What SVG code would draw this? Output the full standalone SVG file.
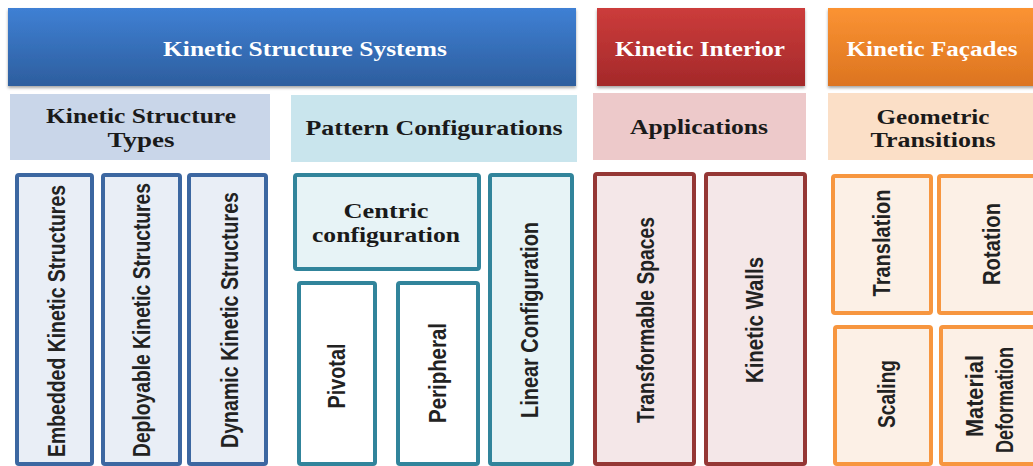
<svg xmlns="http://www.w3.org/2000/svg" width="1033" height="466" viewBox="0 0 1033 466">
<defs>
<linearGradient id="gBlue" x1="0" y1="0" x2="0" y2="1"><stop offset="0" stop-color="#3f80d4"/><stop offset="1" stop-color="#2d5e9e"/></linearGradient>
<linearGradient id="gRed" x1="0" y1="0" x2="0" y2="1"><stop offset="0" stop-color="#cc3c3b"/><stop offset="1" stop-color="#a4292a"/></linearGradient>
<linearGradient id="gOrange" x1="0" y1="0" x2="0" y2="1"><stop offset="0" stop-color="#fb9333"/><stop offset="1" stop-color="#dc7420"/></linearGradient>
<filter id="sh" x="-5%" y="-10%" width="110%" height="130%"><feDropShadow dx="0" dy="2" stdDeviation="1.5" flood-color="#000" flood-opacity="0.35"/></filter>
<style>
.hd{font-family:"Liberation Serif","Times New Roman",serif;font-weight:bold;font-size:21px;fill:#ffffff;text-anchor:middle}
.sub{font-family:"Liberation Serif","Times New Roman",serif;font-weight:bold;font-size:20px;fill:#1a1a1a;text-anchor:middle}
.vt{font-family:"Liberation Sans",Arial,sans-serif;font-weight:bold;font-size:23px;fill:#222222;text-anchor:middle}
.bl{fill:#e9eef6;stroke:#3c67a1;stroke-width:4}
.tl{fill:#e7f3f6;stroke:#31849b;stroke-width:4}
.tw{fill:#ffffff;stroke:#31849b;stroke-width:4}
.rd{fill:#f4e7e8;stroke:#953735;stroke-width:4}
.or{fill:#fcf0e6;stroke:#f7963f;stroke-width:4}
</style>
</defs>
<rect width="1033" height="466" fill="#ffffff"/>

<g id="kinetic-structure-systems">
<rect x="8" y="8" width="568" height="78" fill="url(#gBlue)" filter="url(#sh)"/>
<text class="hd" x="305" y="56" textLength="284" lengthAdjust="spacingAndGlyphs">Kinetic Structure Systems</text>
</g>
<g id="kinetic-interior">
<rect x="597" y="8" width="208" height="78" fill="url(#gRed)" filter="url(#sh)"/>
<text class="hd" x="700" y="56" textLength="170" lengthAdjust="spacingAndGlyphs">Kinetic Interior</text>
</g>
<g id="kinetic-facades">
<rect x="828" y="8" width="210" height="78" fill="url(#gOrange)" filter="url(#sh)"/>
<text class="hd" x="932" y="56" textLength="171" lengthAdjust="spacingAndGlyphs">Kinetic Façades</text>
</g>

<g id="kinetic-structure-types">
<rect x="10" y="94" width="260" height="66" fill="#c9d6e9"/>
<text class="sub" x="141" y="123" textLength="190" lengthAdjust="spacingAndGlyphs">Kinetic Structure</text>
<text class="sub" x="141" y="147" textLength="67" lengthAdjust="spacingAndGlyphs">Types</text>
</g>
<g id="pattern-configurations">
<rect x="291" y="95" width="286" height="67" fill="#c9e5ed"/>
<text class="sub" x="434" y="135" textLength="257" lengthAdjust="spacingAndGlyphs">Pattern Configurations</text>
</g>
<g id="applications">
<rect x="593" y="93" width="213" height="67" fill="#edc9ca"/>
<text class="sub" x="699" y="134" textLength="138" lengthAdjust="spacingAndGlyphs">Applications</text>
</g>
<g id="geometric-transitions">
<rect x="828" y="93" width="210" height="67" fill="#fbdfc7"/>
<text class="sub" x="933" y="124" textLength="113" lengthAdjust="spacingAndGlyphs">Geometric</text>
<text class="sub" x="933" y="147" textLength="125" lengthAdjust="spacingAndGlyphs">Transitions</text>
</g>

<g id="embedded-kinetic-structures">
<rect class="bl" x="17" y="175" width="75" height="289" rx="2"/>
<text class="vt" transform="translate(57,321) rotate(-90)" dy="0.35em" textLength="272" lengthAdjust="spacingAndGlyphs">Embedded Kinetic Structures</text>
</g>
<g id="deployable-kinetic-structures">
<rect class="bl" x="103" y="175" width="77" height="289" rx="2"/>
<text class="vt" transform="translate(142,320) rotate(-90)" dy="0.35em" textLength="274" lengthAdjust="spacingAndGlyphs">Deployable Kinetic Structures</text>
</g>
<g id="dynamic-kinetic-structures">
<rect class="bl" x="189" y="175" width="77" height="289" rx="2"/>
<text class="vt" transform="translate(230,320) rotate(-90)" dy="0.35em" textLength="256" lengthAdjust="spacingAndGlyphs">Dynamic Kinetic Structures</text>
</g>

<g id="centric-configuration">
<rect class="tl" x="295" y="175" width="184" height="94" rx="2"/>
<text class="sub" x="386" y="218" textLength="85" lengthAdjust="spacingAndGlyphs">Centric</text>
<text class="sub" x="386" y="242" textLength="148" lengthAdjust="spacingAndGlyphs">configuration</text>
</g>
<g id="linear-configuration">
<rect class="tl" x="490" y="175" width="82" height="289" rx="2"/>
<text class="vt" transform="translate(530,320) rotate(-90)" dy="0.35em" textLength="196" lengthAdjust="spacingAndGlyphs">Linear Configuration</text>
</g>
<g id="pivotal">
<rect class="tw" x="299" y="283" width="76" height="181" rx="2"/>
<text class="vt" transform="translate(337,376) rotate(-90)" dy="0.35em" textLength="65" lengthAdjust="spacingAndGlyphs">Pivotal</text>
</g>
<g id="peripheral">
<rect class="tw" x="398" y="283" width="80" height="181" rx="2"/>
<text class="vt" transform="translate(438,373) rotate(-90)" dy="0.35em" textLength="100" lengthAdjust="spacingAndGlyphs">Peripheral</text>
</g>

<g id="transformable-spaces">
<rect class="rd" x="595" y="174" width="99" height="290" rx="2"/>
<text class="vt" transform="translate(646,320) rotate(-90)" dy="0.35em" textLength="206" lengthAdjust="spacingAndGlyphs">Transformable Spaces</text>
</g>
<g id="kinetic-walls">
<rect class="rd" x="706" y="174" width="99" height="290" rx="2"/>
<text class="vt" transform="translate(755,320) rotate(-90)" dy="0.35em" textLength="126" lengthAdjust="spacingAndGlyphs">Kinetic Walls</text>
</g>

<g id="translation">
<rect class="or" x="833" y="176" width="98" height="137" rx="2"/>
<text class="vt" transform="translate(882,243) rotate(-90)" dy="0.35em" textLength="107" lengthAdjust="spacingAndGlyphs">Translation</text>
</g>
<g id="rotation">
<rect class="or" x="939" y="176" width="96" height="137" rx="2"/>
<text class="vt" transform="translate(992,244) rotate(-90)" dy="0.35em" textLength="82" lengthAdjust="spacingAndGlyphs">Rotation</text>
</g>
<g id="scaling">
<rect class="or" x="835" y="327" width="96" height="137" rx="2"/>
<text class="vt" transform="translate(887,394) rotate(-90)" dy="0.35em" textLength="68" lengthAdjust="spacingAndGlyphs">Scaling</text>
</g>
<g id="material-deformation">
<rect class="or" x="941" y="327" width="96" height="137" rx="2"/>
<text class="vt" transform="translate(975,396) rotate(-90)" dy="0.35em" textLength="82" lengthAdjust="spacingAndGlyphs">Material</text>
<text class="vt" transform="translate(1005,400) rotate(-90)" dy="0.35em" textLength="106" lengthAdjust="spacingAndGlyphs">Deformation</text>
</g>

<g id="connectors"></g>
</svg>
